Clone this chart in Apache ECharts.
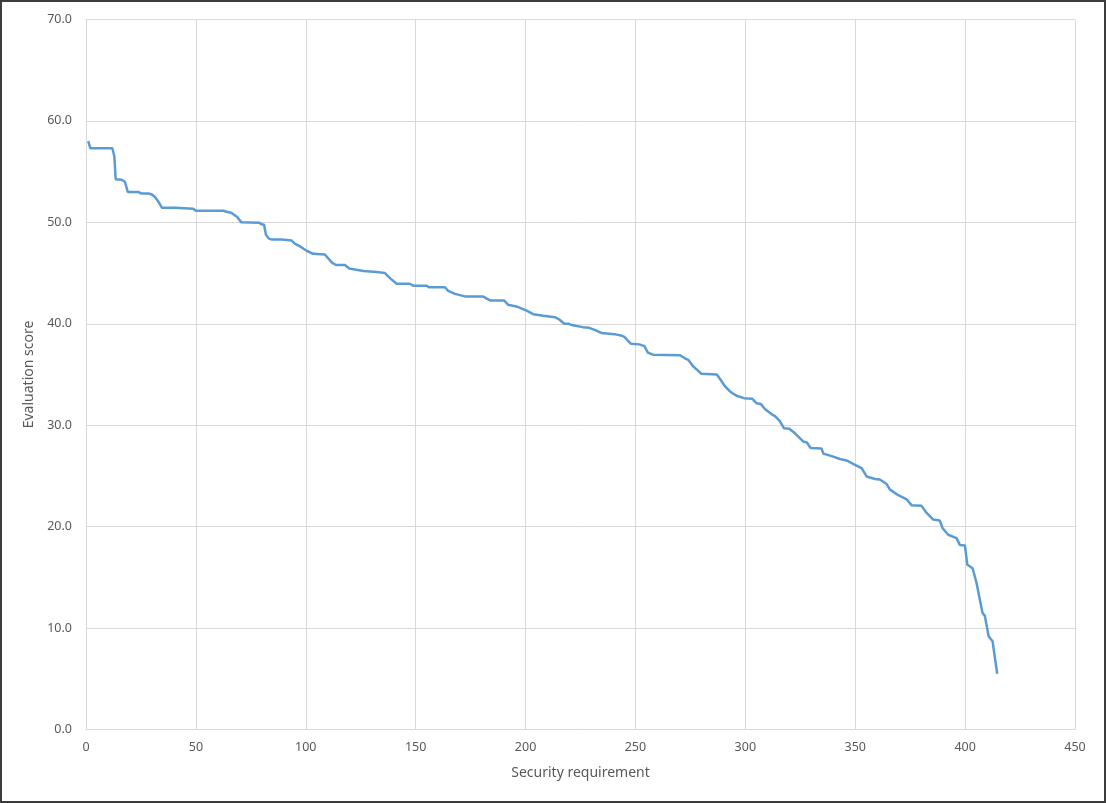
<!DOCTYPE html>
<html>
<head>
<meta charset="utf-8">
<script src="https://cdn.jsdelivr.net/npm/echarts@6/dist/echarts.min.js"></script>
<style>
  html, body { margin: 0; padding: 0; background: #fff; }
  #chart { width: 1106px; height: 803px; position: relative; }
  #frame { position: absolute; left: 0; top: 0; width: 1106px; height: 803px; box-sizing: border-box; border: 2px solid #3c3c3c; pointer-events: none; }
</style>
</head>
<body>
<div id="chart"></div>
<div id="frame"></div>
<script>
// Security requirement index (x) and evaluation score (y) at breakpoints
const requirementIdx = [1,2,12,12.9,13.5,16.2,17.7,19,23.8,25,28.4,30,31.4,33.2,34.5,40.5,41,48.8,50,62.5,64,66,68.7,70.7,78.9,80,81,81.9,83.2,84.6,89,89.8,93.6,95,97.6,100.4,103.4,108.7,111.8,113.7,117.8,119.8,126.2,127,132.2,136,138.3,141.3,147.4,148.9,155,156,163.3,164.8,167.9,172.4,180.5,183.8,190.2,192.1,196.7,200.5,203.5,208.1,213.4,215.5,217.6,219.5,221.5,226,229,232,234.6,240.4,243.4,245,246.5,248,251.8,254.1,255.6,257.9,270.3,272.5,274,276.3,280,287,288.5,290.8,293,296,299.4,303.2,305.1,307,308.9,311.9,313.5,315.7,317.6,320,322.6,326.3,328,329.7,334.7,335.5,340,343,346,349.9,352.9,355.2,359,361.2,364.3,365.8,369.6,373.4,375.7,380.2,382.5,385.5,388.5,389.7,392.3,396.1,397.6,399.9,401,403.4,405.2,406,407.9,409,410.7,412.5,414.6];
const evaluationScore = [58.0,57.3,57.3,56.5,54.25,54.2,54.0,53.0,53.0,52.85,52.85,52.75,52.5,51.95,51.45,51.45,51.35,51.35,51.15,51.15,51.05,50.95,50.55,50.0,49.95,49.8,49.8,48.75,48.4,48.3,48.3,48.2,48.2,47.9,47.6,47.2,46.9,46.83,46.05,45.8,45.8,45.45,45.2,45.1,45.1,45.0,44.5,43.95,43.95,43.75,43.75,43.6,43.6,43.25,42.95,42.7,42.7,42.3,42.3,41.87,41.65,41.3,40.95,40.8,40.65,40.4,40.0,40.0,39.85,39.67,39.6,39.35,39.08,38.98,38.85,38.7,38.35,38.03,37.97,37.8,37.17,36.95,36.9,36.6,36.45,35.8,35.07,35.0,34.55,33.82,33.33,32.9,32.67,32.6,32.17,32.1,31.6,31.1,30.9,30.4,29.7,29.65,29.2,28.4,28.3,27.75,27.7,27.2,26.9,26.67,26.53,26.1,25.77,24.95,24.7,24.65,24.2,23.65,23.1,22.7,22.1,22.05,21.35,20.7,20.6,19.87,19.2,18.87,18.2,18.15,16.25,15.9,14.45,14.3,11.5,11.2,9.19,8.7,5.5];
const xAxisTitle = 'Security requirement';
const yAxisTitle = 'Evaluation score';

const seriesData = requirementIdx.map((x, i) => [x, evaluationScore[i]]);
const font = '"Noto Sans", "Open Sans", sans-serif';
const chart = echarts.init(document.getElementById('chart'), null, { renderer: 'canvas' });
chart.setOption({
  animation: false,
  backgroundColor: '#ffffff',
  grid: { left: 86, right: 31, top: 19.5, bottom: 73.5, containLabel: false },
  xAxis: {
    type: 'value', min: 0, max: 450, interval: 50,
    name: xAxisTitle, nameLocation: 'middle', nameGap: 37,
    nameTextStyle: { color: '#595959', fontSize: 14, fontFamily: font },
    axisLine: { show: true, lineStyle: { color: '#d9d9d9', width: 1 } },
    axisTick: { show: false },
    axisLabel: { color: '#595959', fontSize: 12.5, fontFamily: font, margin: 11 },
    splitLine: { show: true, lineStyle: { color: '#d9d9d9', width: 1 } }
  },
  yAxis: {
    type: 'value', min: 0, max: 70, interval: 10,
    name: yAxisTitle, nameLocation: 'middle', nameGap: 42, nameRotate: 90,
    nameTextStyle: { color: '#595959', fontSize: 14, fontFamily: font },
    axisLine: { show: true, lineStyle: { color: '#d9d9d9', width: 1 } },
    axisTick: { show: false },
    axisLabel: { color: '#595959', fontSize: 12.5, fontFamily: font, margin: 14, formatter: v => v.toFixed(1) },
    splitLine: { show: true, lineStyle: { color: '#d9d9d9', width: 1 } }
  },
  series: [{
    type: 'line', data: seriesData, showSymbol: false, symbol: 'none',
    lineStyle: { color: '#5b9bd5', width: 2.5 }, itemStyle: { color: '#5b9bd5' }
  }]
});
</script>
</body>
</html>
